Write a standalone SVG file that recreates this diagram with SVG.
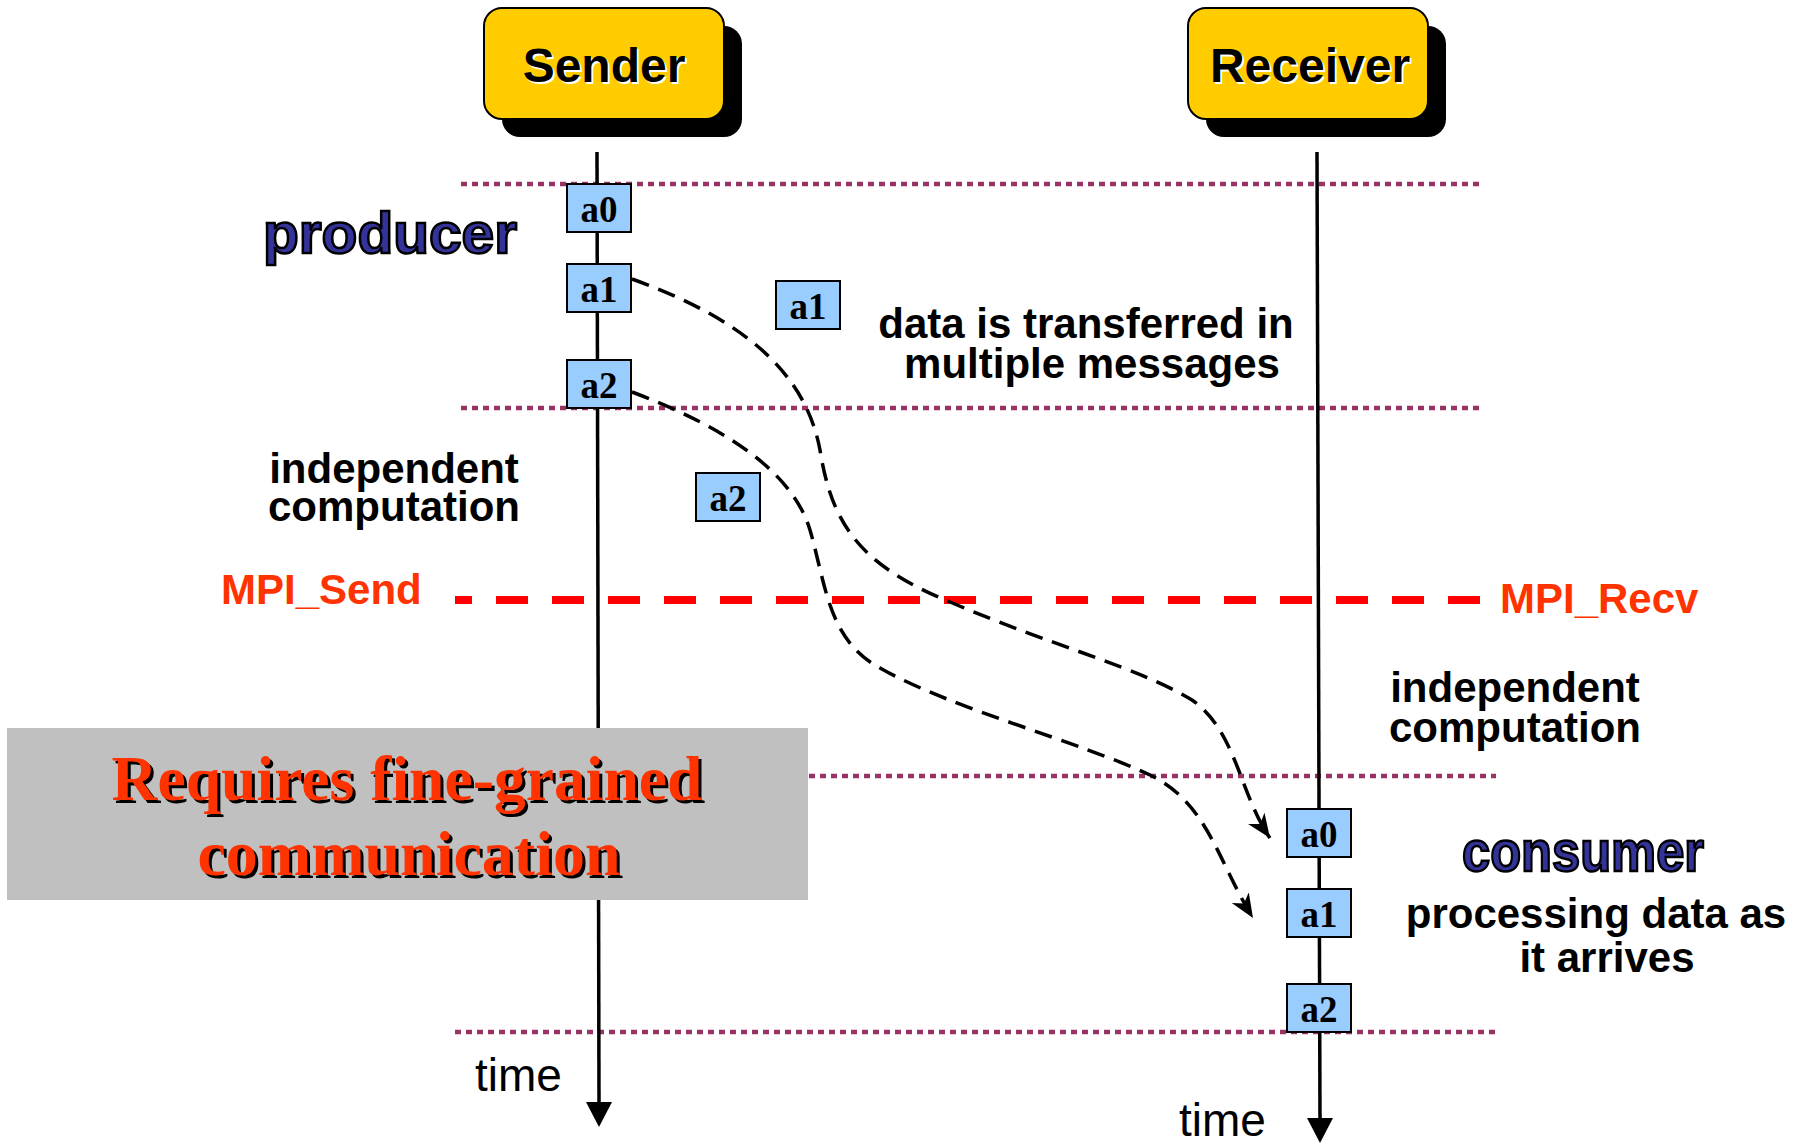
<svg xmlns="http://www.w3.org/2000/svg" width="1805" height="1144" viewBox="0 0 1805 1144">
<defs>
<style>
.dot{stroke:#993366;stroke-width:4.5;stroke-dasharray:6 5;fill:none}
.life{stroke:#000;stroke-width:3.5;fill:none}
.msg{fill:#99CCFF;stroke:#000;stroke-width:2}
.msgt{font-family:"Liberation Serif","Times New Roman",serif;font-weight:bold;font-size:37px;fill:#000;text-anchor:middle}
.lbl{font-family:"Liberation Sans",Arial,sans-serif;font-weight:bold;font-size:42px;fill:#000;text-anchor:middle}
.mpi{font-family:"Liberation Sans",Arial,sans-serif;font-weight:bold;font-size:42px;fill:#FF3300}
.role{font-family:"Liberation Sans",Arial,sans-serif;font-weight:bold;font-size:58px;fill:#333399;stroke:#000;stroke-width:2.5;text-anchor:middle}
.head{font-family:"Liberation Sans",Arial,sans-serif;font-weight:bold;font-size:48px;text-anchor:middle}
.time{font-family:"Liberation Sans",Arial,sans-serif;font-size:46px;fill:#000}
.flow{stroke:#000;stroke-width:3.5;stroke-dasharray:18 10;fill:none;marker-end:url(#arr)}
.big{font-family:"Liberation Serif","Times New Roman",serif;font-weight:bold;font-size:64px;text-anchor:middle}
</style>
<marker id="arr" markerUnits="userSpaceOnUse" markerWidth="30" markerHeight="24" refX="24" refY="10" orient="auto">
<path d="M0,0 L24,10 L0,20 L7,10 z" fill="#000"/>
</marker>
</defs>
<rect width="1805" height="1144" fill="#fff"/>

<g id="phase-lines">
<line class="dot" x1="461" y1="184" x2="1480" y2="184"/>
<line class="dot" x1="461" y1="408" x2="1480" y2="408"/>
<line class="dot" x1="809" y1="776" x2="1496" y2="776"/>
<line class="dot" x1="455" y1="1032" x2="1496" y2="1032"/>
<line x1="455" y1="600" x2="1480" y2="600" stroke="#FF0000" stroke-width="8" stroke-dasharray="32 24" stroke-dashoffset="15"/>
</g>

<g id="sender">
<rect x="502" y="26" width="240" height="111" rx="18" fill="#000"/>
<rect x="484" y="8" width="240" height="111" rx="18" fill="#FFCC00" stroke="#000" stroke-width="2"/>
<text class="head" x="606" y="84" fill="#fff">Sender</text>
<text class="head" x="604" y="82" fill="#000">Sender</text>
</g>
<g id="receiver">
<rect x="1206" y="26" width="240" height="111" rx="18" fill="#000"/>
<rect x="1188" y="8" width="240" height="111" rx="18" fill="#FFCC00" stroke="#000" stroke-width="2"/>
<text class="head" x="1312" y="84" fill="#fff">Receiver</text>
<text class="head" x="1310" y="82" fill="#000">Receiver</text>
</g>

<g id="sender-lifeline">
<line class="life" x1="597" y1="152" x2="599" y2="1104"/>
<path d="M586,1102 L612,1102 L599,1127 z" fill="#000"/>
<text class="time" x="475" y="1091">time</text>
</g>
<g id="receiver-lifeline">
<line class="life" x1="1317" y1="152" x2="1320" y2="1120"/>
<path d="M1307,1118 L1333,1118 L1320,1143 z" fill="#000"/>
<text class="time" x="1179" y="1136">time</text>
</g>

<g id="sender-a0"><rect class="msg" x="567" y="184" width="64" height="48"/><text class="msgt" x="599" y="222">a0</text></g>
<g id="sender-a1"><rect class="msg" x="567" y="264" width="64" height="48"/><text class="msgt" x="599" y="302">a1</text></g>
<g id="sender-a2"><rect class="msg" x="567" y="360" width="64" height="48"/><text class="msgt" x="599" y="398">a2</text></g>
<g id="transit-a1"><rect class="msg" x="776" y="281" width="64" height="48"/><text class="msgt" x="808" y="319">a1</text></g>
<g id="transit-a2"><rect class="msg" x="696" y="473" width="64" height="48"/><text class="msgt" x="728" y="511">a2</text></g>
<g id="receiver-a0"><rect class="msg" x="1287" y="809" width="64" height="48"/><text class="msgt" x="1319" y="847">a0</text></g>
<g id="receiver-a1"><rect class="msg" x="1287" y="889" width="64" height="48"/><text class="msgt" x="1319" y="927">a1</text></g>
<g id="receiver-a2"><rect class="msg" x="1287" y="984" width="64" height="48"/><text class="msgt" x="1319" y="1022">a2</text></g>

<g id="connectors">
<path class="flow" d="M632,279 C740,318 805,370 820,450 C832,525 860,565 950,602 C1050,645 1140,668 1192,700 C1236,730 1240,795 1270,838"/>
<path class="flow" d="M632,392 C722,426 792,470 810,530 C826,585 828,640 880,668 C950,708 1080,742 1150,775 C1208,803 1218,862 1253,918"/>
</g>

<g id="note">
<rect x="7" y="728" width="801" height="172" fill="#C0C0C0"/>
<text class="big" x="410" y="803" fill="#000" textLength="591" lengthAdjust="spacingAndGlyphs">Requires fine-grained</text>
<text class="big" x="407" y="800" fill="#FF3300" textLength="591" lengthAdjust="spacingAndGlyphs">Requires fine-grained</text>
<text class="big" x="412" y="878" fill="#000">communication</text>
<text class="big" x="409" y="875" fill="#FF3300">communication</text>
</g>

<g id="labels">
<text class="role" x="390" y="253" textLength="254" lengthAdjust="spacingAndGlyphs">producer</text>
<text class="role" x="1583" y="871" textLength="242" lengthAdjust="spacingAndGlyphs">consumer</text>
<text class="lbl" x="1086" y="338">data is transferred in</text>
<text class="lbl" x="1092" y="378">multiple messages</text>
<text class="lbl" x="394" y="483">independent</text>
<text class="lbl" x="394" y="521">computation</text>
<text class="mpi" x="221" y="604">MPI_Send</text>
<text class="mpi" x="1500" y="613">MPI_Recv</text>
<text class="lbl" x="1515" y="702">independent</text>
<text class="lbl" x="1515" y="742">computation</text>
<text class="lbl" x="1596" y="928">processing data as</text>
<text class="lbl" x="1607" y="972">it arrives</text>
</g>
</svg>
